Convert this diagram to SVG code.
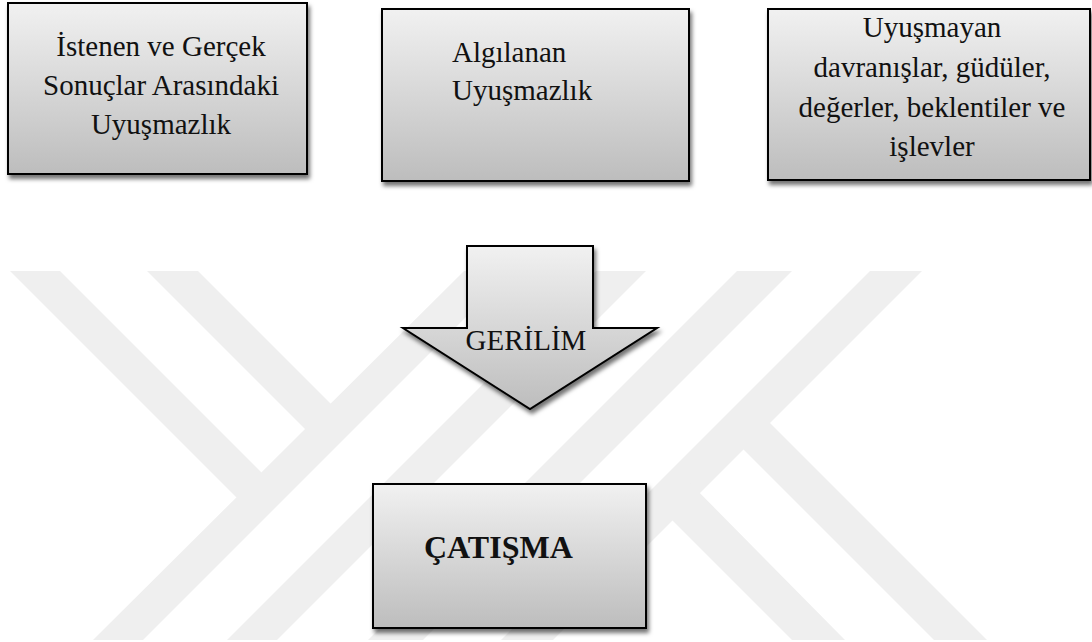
<svg xmlns="http://www.w3.org/2000/svg" width="1092" height="642" viewBox="0 0 1092 642">
  <defs>
    <linearGradient id="boxGrad" x1="0" y1="0" x2="0" y2="1">
      <stop offset="0" stop-color="#f1f1f1"/>
      <stop offset="1" stop-color="#bdbdbd"/>
    </linearGradient>
    <filter id="shadow" x="-10%" y="-10%" width="125%" height="130%">
      <feDropShadow dx="2" dy="4" stdDeviation="2.2" flood-color="#000" flood-opacity="0.55"/>
    </filter>
    <clipPath id="wmClip">
      <rect x="0" y="271" width="1092" height="369"/>
    </clipPath>
  </defs>
  <style>
    .wm { fill: #efefef; }
    .box { fill: url(#boxGrad); stroke: #000; stroke-width: 2; filter: url(#shadow); }
    .lbl { font-family: "Liberation Serif", "Times New Roman", serif; font-size: 29px; fill: #111; }
    .ctr { text-anchor: middle; }
    .bold { font-weight: bold; font-size: 32px; }
  </style>

  <g id="watermark" clip-path="url(#wmClip)">
    <polygon class="wm" points="10,271 60,271 274.5,485.5 249.5,510.5"/>
    <polygon class="wm" points="147,271 198,271 343.5,416.5 318,442"/>
    <polygon class="wm" points="464,271 512,271 143,640 93,640"/>
    <polygon class="wm" points="596,271 646,271 277,640 227,640"/>
    <polygon class="wm" points="737,271 792,271 423,640 368,640"/>
    <polygon class="wm" points="870,271 922,271 553,640 501,640"/>
    <polygon class="wm" points="732,438 758.5,411.5 987,640 934,640"/>
    <polygon class="wm" points="661,509 688.5,481.5 845,640 792,640"/>
  </g>

  <g id="node-istenen">
    <rect class="box" x="8" y="3" width="299" height="171"/>
    <text class="lbl ctr" x="161" y="56">İstenen ve Gerçek</text>
    <text class="lbl ctr" x="161" y="95">Sonuçlar Arasındaki</text>
    <text class="lbl ctr" x="161" y="134">Uyuşmazlık</text>
  </g>

  <g id="node-algilanan">
    <rect class="box" x="382" y="9" width="307" height="172"/>
    <text class="lbl" x="452" y="62">Algılanan</text>
    <text class="lbl" x="452" y="100">Uyuşmazlık</text>
  </g>

  <g id="node-uyusmayan">
    <rect class="box" x="768" y="9" width="322" height="171"/>
    <text class="lbl ctr" x="932" y="37">Uyuşmayan</text>
    <text class="lbl ctr" x="932" y="77">davranışlar, güdüler,</text>
    <text class="lbl ctr" x="932" y="117">değerler, beklentiler ve</text>
    <text class="lbl ctr" x="932" y="156">işlevler</text>
  </g>

  <g id="connectors">
    <g id="arrow-gerilim">
      <polygon class="box" points="467,246 593,246 593,328 657,328 530,409 403,328 467,328"/>
      <text class="lbl ctr" x="526" y="350">GERİLİM</text>
    </g>
  </g>

  <g id="node-catisma">
    <rect class="box" x="373" y="484" width="273" height="144"/>
    <text class="lbl bold" x="424" y="558">ÇATIŞMA</text>
  </g>
</svg>
